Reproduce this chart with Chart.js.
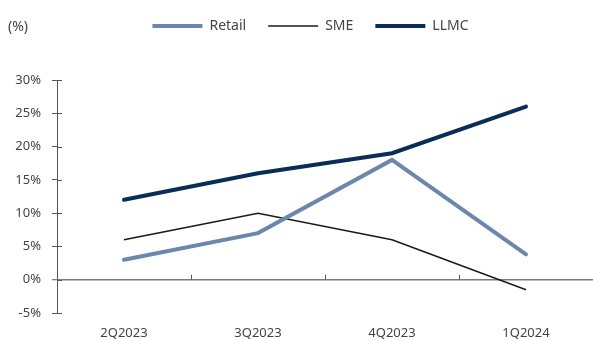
<!DOCTYPE html>
<html><head><meta charset="utf-8">
<script src="https://cdn.jsdelivr.net/npm/chart.js@4/dist/chart.umd.min.js"></script>
<style>html,body{margin:0;padding:0;background:#fff}#wrap{width:593px;height:341px;position:relative}</style>
</head><body><div id="wrap"><canvas id="c"></canvas></div>
<script>
const categories = ["2Q2023", "3Q2023", "4Q2023", "1Q2024"];
const retail = [3, 7, 18, 3.8];
const sme = [6, 10, 6, -1.5];
const llmc = [12, 16, 19, 26];
const yTicks = [-5, 0, 5, 10, 15, 20, 25, 30];

const FONT = "'Noto Sans', sans-serif";

const legendGap = {
  id: 'legendGap',
  beforeInit(chart) {
    const origFit = chart.legend.fit;
    chart.legend.fit = function () {
      origFit.bind(chart.legend)();
      this.height += 37;
    };
  },
  afterLayout(chart) {
    chart.legend.left += 14;
    chart.legend.right += 14;
  }
};

const extras = {
  id: 'extras',
  afterDraw(chart) {
    const {ctx, scales: {x, y}} = chart;
    ctx.save();
    ctx.strokeStyle = '#555';
    ctx.lineWidth = 1;
    const ax = y.right;
    y.ticks.forEach((t, i) => {
      const py = Math.round(y.getPixelForTick(i)) + 0.5;
      ctx.beginPath(); ctx.moveTo(ax, py); ctx.lineTo(ax + 5, py); ctx.stroke();
    });
    const zy = y.getPixelForValue(0);
    for (let i = 0; i < categories.length - 1; i++) {
      const px = Math.round((x.getPixelForTick(i) + x.getPixelForTick(i + 1)) / 2) + 0.5;
      ctx.beginPath(); ctx.moveTo(px, zy - 5); ctx.lineTo(px, zy); ctx.stroke();
    }
    ctx.fillStyle = '#444';
    ctx.font = "14px " + FONT;
    ctx.textBaseline = 'middle';
    ctx.textAlign = 'left';
    ctx.fillText('(%)', 8, 27);
    ctx.restore();
  }
};

new Chart(document.getElementById('c'), {
  type: 'line',
  data: {
    labels: categories,
    datasets: [
      {label: 'Retail', data: retail, borderColor: '#6b87ab', backgroundColor: '#6b87ab', borderWidth: 4, pointRadius: 0, borderCapStyle: 'round', order: 2},
      {label: 'SME', data: sme, borderColor: '#1a1a1a', backgroundColor: '#1a1a1a', borderWidth: 1.5, pointRadius: 0, order: 3},
      {label: 'LLMC', data: llmc, borderColor: '#0a2d56', backgroundColor: '#0a2d56', borderWidth: 4, pointRadius: 0, borderCapStyle: 'round', order: 1}
    ]
  },
  options: {
    responsive: true, maintainAspectRatio: false, animation: false,
    layout: {padding: {left: 0, right: 0, top: -3, bottom: 0}},
    plugins: {
      legend: {
        position: 'top',
        labels: {
          sort: (a, b) => a.datasetIndex - b.datasetIndex,
          usePointStyle: true, pointStyle: 'line', pointStyleWidth: 50, boxHeight: 4,
          color: '#444', font: {family: FONT, size: 14}, padding: 22
        }
      },
      tooltip: {enabled: false}
    },
    scales: {
      x: {
        offset: true,
        grid: {display: false},
        border: {display: false},
        afterFit(s) { s.height = 28; },
        ticks: {color: '#444', font: {family: FONT, size: 13}, padding: 4}
      },
      y: {
        min: -5, max: 30,
        afterBuildTicks(s) { s.ticks = yTicks.map(v => ({value: v})); },
        afterFit(s) { s.width = 57; },
        border: {display: true, color: '#555', width: 1},
        grid: {
          drawOnChartArea: true,
          color: c => (c.tick && c.tick.value === 0) ? '#7a7a7a' : 'rgba(0,0,0,0)',
          lineWidth: c => (c.tick && c.tick.value === 0) ? 1.5 : 1,
          tickColor: '#555', tickLength: 5, tickWidth: 1
        },
        ticks: {color: '#444', font: {family: FONT, size: 13}, padding: 11, callback: v => v + '%'}
      }
    }
  },
  plugins: [extras, legendGap]
});
</script></body></html>
